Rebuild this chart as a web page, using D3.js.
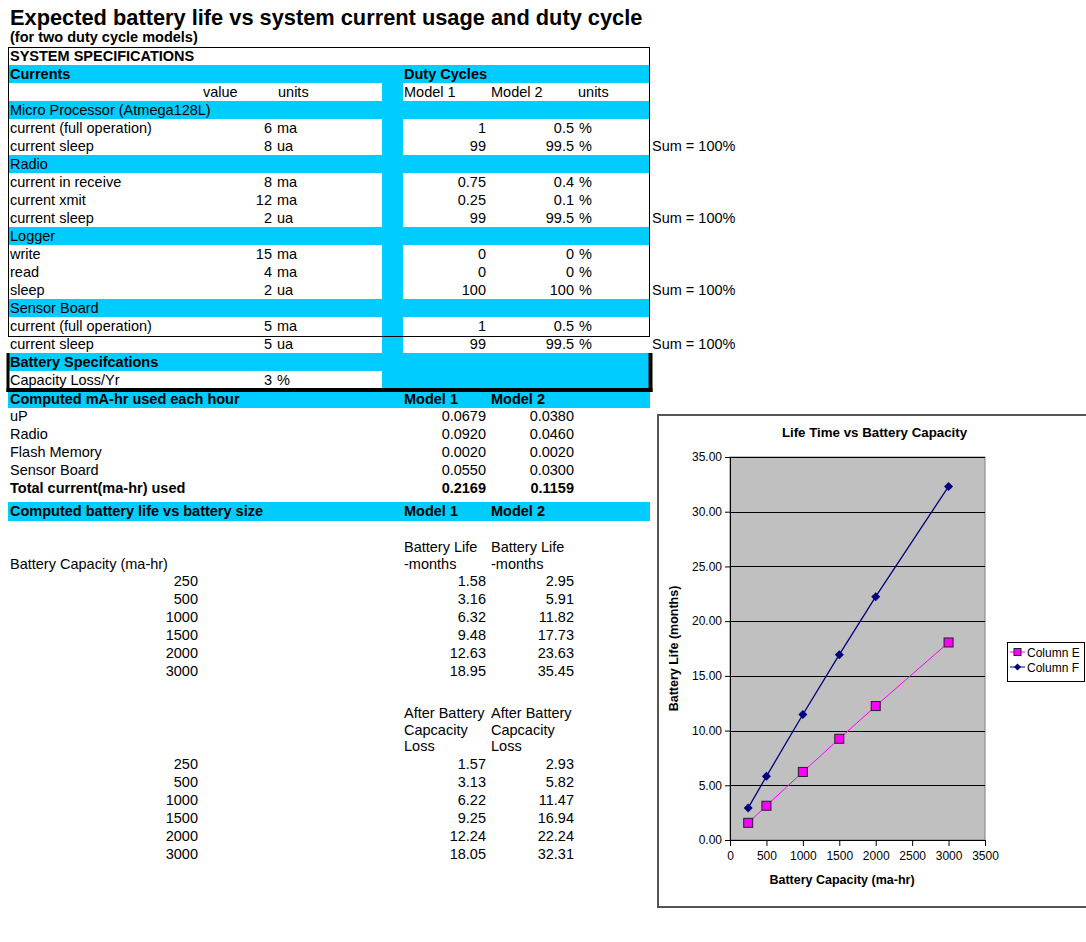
<!DOCTYPE html>
<html>
<head>
<meta charset="utf-8">
<script src="https://cdn.jsdelivr.net/npm/d3@7"></script>
<style>
  body { margin: 0; background: #fff; }
  svg { display: block; }
  text { font-family: "Liberation Sans", Arial, sans-serif; fill: #000; }
</style>
</head>
<body>
<svg id="sheet" width="1086" height="942"></svg>
<script>
// ---- System specification inputs ----
const groupNames = ["Micro Processor (Atmega128L)", "Radio", "Logger", "Sensor Board"];
const itemGroup  = [0, 0, 1, 1, 1, 2, 2, 2, 3, 3];
const itemLabels = ["current (full operation)", "current sleep", "current in receive", "current xmit",
                    "current sleep", "write", "read", "sleep", "current (full operation)", "current sleep"];
const itemValues = [6, 8, 8, 12, 2, 15, 4, 2, 5, 5];
const itemUnits  = ["ma", "ua", "ma", "ma", "ua", "ma", "ma", "ua", "ma", "ua"];
const dutyModel1 = [1, 99, 0.75, 0.25, 99, 0, 0, 100, 1, 99];
const dutyModel2 = [0.5, 99.5, 0.4, 0.1, 99.5, 0, 0, 100, 0.5, 99.5];
const capacityLossPerYear = 3;

// ---- Computed hourly usage (mA-hr) ----
const usageLabels = ["uP", "Radio", "Flash Memory", "Sensor Board"];
const usageModel1 = [0.0679, 0.0920, 0.0020, 0.0550];
const usageModel2 = [0.0380, 0.0460, 0.0020, 0.0300];
const totalModel1 = 0.2169;
const totalModel2 = 0.1159;

// ---- Battery life (months) vs capacity ----
const capacities = [250, 500, 1000, 1500, 2000, 3000];
const lifeModel1 = [1.58, 3.16, 6.32, 9.48, 12.63, 18.95];
const lifeModel2 = [2.95, 5.91, 11.82, 17.73, 23.63, 35.45];
const lossModel1 = [1.57, 3.13, 6.22, 9.25, 12.24, 18.05];
const lossModel2 = [2.93, 5.82, 11.47, 16.94, 22.24, 32.31];

// ---- Chart series and ticks ----
const seriesNames = ["Column E", "Column F"];
const seriesValues = [lossModel1, lossModel2];
const xTicks = [0, 500, 1000, 1500, 2000, 2500, 3000, 3500];
const yTicks = [0, 5, 10, 15, 20, 25, 30, 35];

const BLUE = "#00ccff";
const FS = 14.5;
const svg = d3.select("#sheet");
const fills = svg.append("g");   // cell shading sits beneath everything else
const texts = svg.append("g");

function put(g, x, y, s, o = {}) {
  return g.append("text")
    .attr("x", x).attr("y", y)
    .attr("text-anchor", o.anchor || "start")
    .attr("font-size", o.size || FS)
    .attr("font-weight", o.bold ? "bold" : null)
    .text(s);
}
function band(x, y, w, h) {
  fills.append("rect").attr("x", x).attr("y", y).attr("width", w).attr("height", h).attr("fill", BLUE);
}

// column positions of the sheet
const col = { label: 10, valueEnd: 272, unit: 277, m1: 404, m1End: 486, m2: 491, m2End: 574, pct: 579, note: 652, capEnd: 198 };
const L = 8, R = 650, STRIP0 = 382, STRIP1 = 403, ROW = 18;

// ---- Title ----
put(texts, 10, 25, "Expected battery life vs system current usage and duty cycle", { bold: true, size: 21.8 });
put(texts, 10, 42, "(for two duty cycle models)", { bold: true, size: 14.5 });

// ---- Specification table ----
let y = 47;
put(texts, col.label, y + 14, "SYSTEM SPECIFICATIONS", { bold: true });
y += ROW;
band(L, y, R - L, ROW);
put(texts, col.label, y + 14, "Currents", { bold: true });
put(texts, col.m1, y + 14, "Duty Cycles", { bold: true });
y += ROW;
band(STRIP0, y, STRIP1 - STRIP0, ROW);
put(texts, 203, y + 14, "value");
put(texts, 278, y + 14, "units");
put(texts, col.m1, y + 14, "Model 1");
put(texts, col.m2, y + 14, "Model 2");
put(texts, 578, y + 14, "units");
y += ROW;

groupNames.forEach((name, gi) => {
  band(L, y, R - L, ROW);
  put(texts, col.label, y + 14, name);
  y += ROW;
  const idx = itemGroup.map((g, i) => g === gi ? i : -1).filter(i => i >= 0);
  idx.forEach((i, k) => {
    band(STRIP0, y, STRIP1 - STRIP0, ROW);
    const b = y + 14;
    put(texts, col.label, b, itemLabels[i]);
    put(texts, col.valueEnd, b, itemValues[i], { anchor: "end" });
    put(texts, col.unit, b, itemUnits[i]);
    put(texts, col.m1End, b, dutyModel1[i], { anchor: "end" });
    put(texts, col.m2End, b, dutyModel2[i], { anchor: "end" });
    put(texts, col.pct, b, "%");
    if (k === idx.length - 1) put(texts, col.note, b, "Sum = 100%");
    y += ROW;
  });
});

// battery specification
band(L, y, R - L, ROW);
put(texts, col.label, y + 14, "Battery Specifcations", { bold: true });
y += ROW;
band(STRIP0, y, R - STRIP0, ROW);
put(texts, col.label, y + 14, "Capacity Loss/Yr");
put(texts, col.valueEnd, y + 14, capacityLossPerYear, { anchor: "end" });
put(texts, col.unit, y + 14, "%");

// table borders
svg.append("rect").attr("x", 8.5).attr("y", 47.5).attr("width", 641).attr("height", 289)
  .attr("fill", "none").attr("stroke", "#000").attr("stroke-width", 1);
svg.append("path").attr("d", "M8,353V392").attr("stroke", "#000").attr("stroke-width", 3);
svg.append("path").attr("d", "M650.5,353V392").attr("stroke", "#000").attr("stroke-width", 4);
svg.append("path").attr("d", "M6.5,390H652.5").attr("stroke", "#000").attr("stroke-width", 4);

// ---- Computed hourly usage ----
band(L, 392, R - L, 16);
put(texts, col.label, 404, "Computed mA-hr used each hour", { bold: true });
put(texts, col.m1, 404, "Model 1", { bold: true });
put(texts, col.m2, 404, "Model 2", { bold: true });
const f4 = d3.format(".4f"), f2 = d3.format(".2f");
usageLabels.forEach((lab, i) => {
  const b = 421 + i * ROW;
  put(texts, col.label, b, lab);
  put(texts, col.m1End, b, f4(usageModel1[i]), { anchor: "end" });
  put(texts, col.m2End, b, f4(usageModel2[i]), { anchor: "end" });
});
put(texts, col.label, 493, "Total current(ma-hr) used", { bold: true });
put(texts, col.m1End, 493, f4(totalModel1), { anchor: "end", bold: true });
put(texts, col.m2End, 493, f4(totalModel2), { anchor: "end", bold: true });

// ---- Battery life tables ----
band(L, 502, R - L, 19);
put(texts, col.label, 516, "Computed battery life vs battery size", { bold: true });
put(texts, col.m1, 516, "Model 1", { bold: true });
put(texts, col.m2, 516, "Model 2", { bold: true });

put(texts, col.m1, 552, "Battery Life");
put(texts, col.m2, 552, "Battery Life");
put(texts, col.m1, 569, "-months");
put(texts, col.m2, 569, "-months");
put(texts, col.label, 569, "Battery Capacity (ma-hr)");
capacities.forEach((c, i) => {
  const b = 586 + i * ROW;
  put(texts, col.capEnd, b, c, { anchor: "end" });
  put(texts, col.m1End, b, f2(lifeModel1[i]), { anchor: "end" });
  put(texts, col.m2End, b, f2(lifeModel2[i]), { anchor: "end" });
});

["After Battery", "Capcacity", "Loss"].forEach((s, k) => {
  put(texts, col.m1, 718 + k * 16.5, s);
  put(texts, col.m2, 718 + k * 16.5, s);
});
capacities.forEach((c, i) => {
  const b = 769 + i * ROW;
  put(texts, col.capEnd, b, c, { anchor: "end" });
  put(texts, col.m1End, b, f2(lossModel1[i]), { anchor: "end" });
  put(texts, col.m2End, b, f2(lossModel2[i]), { anchor: "end" });
});

// ---- Embedded chart ----
const chart = svg.append("g");
chart.append("rect").attr("x", 658).attr("y", 415).attr("width", 440).attr("height", 492)
  .attr("fill", "#fff").attr("stroke", "#555").attr("stroke-width", 2);

const x = d3.scaleLinear().domain([0, 3500]).range([730, 985]);
const yS = d3.scaleLinear().domain([0, 35]).range([840, 457]);

chart.append("rect").attr("x", x(0)).attr("y", yS(35)).attr("width", x(3500) - x(0)).attr("height", yS(0) - yS(35))
  .attr("fill", "#c0c0c0").attr("stroke", "#808080").attr("stroke-width", 1);

chart.append("g").selectAll("line").data(yTicks.filter(d => d > 0)).join("line")
  .attr("x1", x(0)).attr("x2", x(3500))
  .attr("y1", d => Math.round(yS(d)) + 0.5).attr("y2", d => Math.round(yS(d)) + 0.5)
  .attr("stroke", "#000").attr("stroke-width", 1);

const xAxis = chart.append("g").attr("transform", `translate(0,${yS(0)})`)
  .call(d3.axisBottom(x).tickValues(xTicks).tickSize(6).tickSizeOuter(0).tickPadding(5).tickFormat(d3.format("d")));
const yAxis = chart.append("g").attr("transform", `translate(${x(0)},0)`)
  .call(d3.axisLeft(yS).tickValues(yTicks).tickSize(5).tickSizeOuter(0).tickPadding(3).tickFormat(d3.format(".2f")));
[xAxis, yAxis].forEach(a => {
  a.selectAll("path,line").attr("stroke", "#000");
  a.selectAll("text").attr("font-size", 12).attr("font-family", "\"Liberation Sans\", Arial, sans-serif").attr("fill", "#000");
});

const seriesColors = ["#ff00ff", "#000080"];
const line = d3.line().x((d, i) => x(capacities[i])).y(d => yS(d));
seriesValues.forEach((vals, s) => {
  chart.append("path").datum(vals).attr("d", line)
    .attr("fill", "none").attr("stroke", seriesColors[s]).attr("stroke-width", s === 1 ? 1.3 : 1);
});
// Column E markers: squares
chart.append("g").selectAll("rect").data(seriesValues[0]).join("rect")
  .attr("x", (d, i) => x(capacities[i]) - 4.5).attr("y", d => yS(d) - 4.5)
  .attr("width", 9).attr("height", 9)
  .attr("fill", seriesColors[0]).attr("stroke", "#202020").attr("stroke-width", 1);
// Column F markers: diamonds
const diamond = (cx, cy, r) => `M${cx},${cy - r}L${cx + r},${cy}L${cx},${cy + r}L${cx - r},${cy}Z`;
chart.append("g").selectAll("path").data(seriesValues[1]).join("path")
  .attr("d", (d, i) => diamond(x(capacities[i]), yS(d), 4.5))
  .attr("fill", seriesColors[1]);

// titles
put(chart, 874.5, 437, "Life Time vs Battery Capacity", { anchor: "middle", bold: true, size: 13.3 });
put(chart, 842, 884, "Battery Capacity (ma-hr)", { anchor: "middle", bold: true, size: 12.5 });
put(chart, 0, 0, "Battery Life (months)", { anchor: "middle", bold: true, size: 12.5 })
  .attr("transform", `translate(678,${(yS(0) + yS(35)) / 2}) rotate(-90)`);

// legend
const lg = chart.append("g");
lg.append("rect").attr("x", 1007.5).attr("y", 642.5).attr("width", 77).attr("height", 39)
  .attr("fill", "#fff").attr("stroke", "#000").attr("stroke-width", 1);
seriesNames.forEach((name, s) => {
  const cy = 652 + s * 15;
  lg.append("line").attr("x1", 1010).attr("x2", 1025).attr("y1", cy).attr("y2", cy)
    .attr("stroke", seriesColors[s]).attr("stroke-width", 1);
  if (s === 0) {
    lg.append("rect").attr("x", 1014).attr("y", cy - 3.5).attr("width", 7).attr("height", 7)
      .attr("fill", seriesColors[0]).attr("stroke", "#202020").attr("stroke-width", 1);
  } else {
    lg.append("path").attr("d", diamond(1017.5, cy, 3.5)).attr("fill", seriesColors[1]);
  }
  put(lg, 1027, cy + 4.5, name, { size: 12 });
});
</script>
</body>
</html>
